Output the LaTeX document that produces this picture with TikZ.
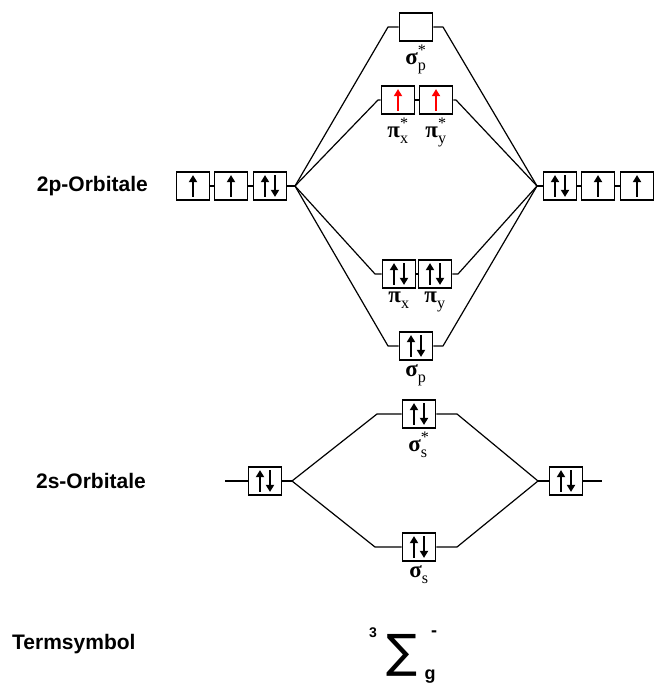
\documentclass[tikz,border=0pt]{standalone}
\usepackage{amsmath}
\usepackage{fontspec}
\newfontfamily\labfont{Liberation Sans}
\newfontfamily\grkfont{Liberation Serif}
\newfontfamily\symfont{DejaVu Sans}
\usetikzlibrary{arrows.meta,positioning}

\tikzset{
  orb/.style={draw, line width=1.8pt, minimum width=33pt, minimum height=28pt, inner sep=0pt},
  link/.style={line width=1.2pt, line join=round},
  spin/.style={line width=2pt, -{Triangle[width=8pt,length=7pt]}},
  molab/.style={font=\fontsize{23}{23}\selectfont, inner sep=0pt},
  side/.style={font=\labfont\bfseries\fontsize{21}{21}\selectfont, inner sep=0pt}
}
% electrons in a box (name, x offset)
\newcommand\up[3][black]{\draw[spin,#1] ([xshift=#3pt,yshift=4pt]#2.south) -- ([xshift=#3pt,yshift=-4pt]#2.north);}
\newcommand\down[2]{\draw[spin] ([xshift=#2pt,yshift=-4pt]#1.north) -- ([xshift=#2pt,yshift=4pt]#1.south);}
\newcommand\pair[1]{\up{#1}{-5}\down{#1}{5}}
% orbital name: letter, index, star
\newcommand\mo[3]{$\text{\grkfont\bfseries #1}^{\text{\grkfont #3}}_{\text{\grkfont #2}}$}

\begin{document}
\begin{tikzpicture}[x=1pt, y=-1pt]
    \useasboundingbox (0,0) rectangle (655,684);

    % side labels
    \node[side, anchor=east] (lab2p) at (148,186) {2p-Orbitale};
    \node[side, anchor=east] (lab2s) at (146,481) {2s-Orbitale};
    \node[side, anchor=west] (labterm) at (12,644) {Termsymbol};

    % 2p of the left atom
    \node[orb] (pl1) at (193,186) {};
    \node[orb] (pl2) at (231,186) {};
    \node[orb] (pl3) at (270,186) {};
    \up{pl1}{0} \up{pl2}{0} \pair{pl3}
    \draw[link] (pl1) -- (pl2) (pl2) -- (pl3);
    \coordinate (fpl) at (295,186);
    \draw[link] (pl3) -- (fpl);

    % 2p of the right atom
    \node[orb] (pr1) at (560,186) {};
    \node[orb] (pr2) at (598,186) {};
    \node[orb] (pr3) at (637,186) {};
    \pair{pr1} \up{pr2}{0} \up{pr3}{0}
    \draw[link] (pr1) -- (pr2) (pr2) -- (pr3);
    \coordinate (fpr) at (537,186);
    \draw[link] (fpr) -- (pr1);

    % sigma p star
    \node[orb] (sps) at (416,27) {};
    \node[molab, below=3pt of sps] (sps-t) {\mo{σ}{p}{*}};
    \coordinate (sps-l) at (388,27);
    \coordinate (sps-r) at (443,27);
    \draw[link] (fpl) -- (sps-l) -- (sps);
    \draw[link] (sps) -- (sps-r) -- (fpr);

    % pi star
    \node[orb] (pxs) at (398,100) {};
    \node[orb] (pys) at (436,100) {};
    \up[red]{pxs}{0} \up[red]{pys}{0}
    \node[molab, below=3pt of pxs] (pxs-t) {\mo{π}{x}{*}};
    \node[molab, below=3pt of pys] (pys-t) {\mo{π}{y}{*}};
    \coordinate (pxs-l) at (378,100);
    \coordinate (pys-r) at (456,100);
    \draw[link] (fpl) -- (pxs-l) -- (pxs);
    \draw[link] (pxs) -- (pys);
    \draw[link] (pys) -- (pys-r) -- (fpr);

    % pi
    \node[orb] (px) at (399,274) {};
    \node[orb] (py) at (435,274) {};
    \pair{px} \pair{py}
    \node[molab, below=3pt of px] (px-t) {\mo{π}{x}{}};
    \node[molab, below=3pt of py] (py-t) {\mo{π}{y}{}};
    \coordinate (px-l) at (375,274);
    \coordinate (py-r) at (458,274);
    \draw[link] (fpl) -- (px-l) -- (px);
    \draw[link] (px) -- (py);
    \draw[link] (py) -- (py-r) -- (fpr);

    % sigma p
    \node[orb] (sp) at (416,346) {};
    \pair{sp}
    \node[molab, below=3pt of sp] (sp-t) {\mo{σ}{p}{}};
    \coordinate (sp-l) at (388,346);
    \coordinate (sp-r) at (443,346);
    \draw[link] (fpl) -- (sp-l) -- (sp);
    \draw[link] (sp) -- (sp-r) -- (fpr);

    % 2s of both atoms
    \node[orb] (sl) at (265,481) {};
    \node[orb] (sr) at (566,481) {};
    \pair{sl} \pair{sr}
    \coordinate (sl-o) at (225,481);
    \coordinate (sr-o) at (602,481);
    \coordinate (fsl) at (292,481);
    \coordinate (fsr) at (538,481);
    \draw[link] (sl-o) -- (sl) (sl) -- (fsl);
    \draw[link] (fsr) -- (sr) (sr) -- (sr-o);

    % sigma s star
    \node[orb] (sss) at (419,414) {};
    \pair{sss}
    \node[molab, below=3pt of sss] (sss-t) {\mo{σ}{s}{*}};
    \coordinate (sss-l) at (377,414);
    \coordinate (sss-r) at (457,414);
    \draw[link] (fsl) -- (sss-l) -- (sss);
    \draw[link] (sss) -- (sss-r) -- (fsr);

    % sigma s
    \node[orb] (ss) at (419,547) {};
    \pair{ss}
    \node[molab, below=3pt of ss] (ss-t) {\mo{σ}{s}{}};
    \coordinate (ss-l) at (375,547);
    \coordinate (ss-r) at (457,547);
    \draw[link] (fsl) -- (ss-l) -- (ss);
    \draw[link] (ss) -- (ss-r) -- (fsr);

    % term symbol
    \node[inner sep=0pt, font=\symfont\fontsize{46}{46}\selectfont] (sig) at (402,655) {∑};
    \node[side, font=\labfont\bfseries\fontsize{14}{14}\selectfont] (sig-m) at (373,633) {3};
    \node[side, font=\labfont\bfseries\fontsize{18}{18}\selectfont] (sig-p) at (434,634) {-};
    \node[side, font=\labfont\bfseries\fontsize{18}{18}\selectfont] (sig-s) at (430,677) {g};
\end{tikzpicture}
\end{document}
